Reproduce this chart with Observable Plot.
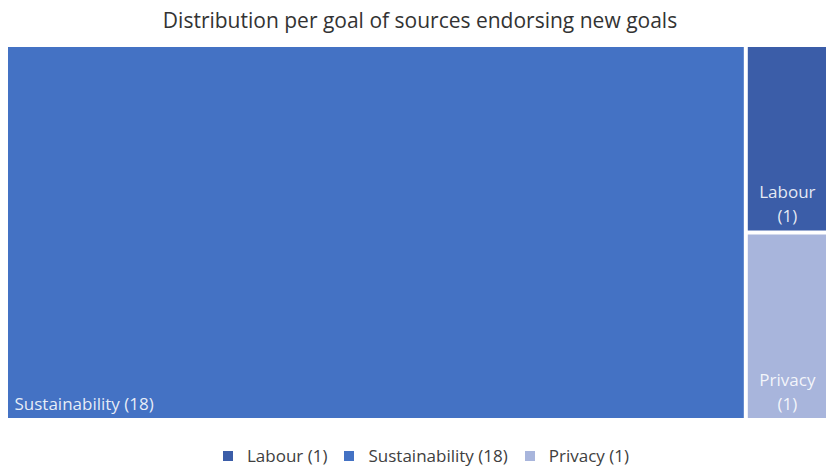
<!DOCTYPE html>
<html>
<head>
<meta charset="utf-8">
<script src="https://cdn.jsdelivr.net/npm/d3@7"></script>
<script src="https://cdn.jsdelivr.net/npm/@observablehq/plot@0.6"></script>
<style>
  html, body { margin: 0; padding: 0; background: #fff; }
  body { width: 826px; height: 466px; overflow: hidden; font-family: "Open Sans", Lato, sans-serif; }
  #title { height: 38px; line-height: 40px; text-align: center; font-size: 21px; color: #333; padding-left: 14px; }
  #legend { display: flex; justify-content: center; gap: 17px; font-size: 17px; line-height: 21px; height: 21px; color: #404040; margin-top: 17px; padding-left: 26px; }
  .item { display: flex; align-items: center; gap: 14px; }
  .sw { width: 10px; height: 10px; display: inline-block; }
</style>
</head>
<body>
<div id="title"></div>
<div id="chart"></div>
<div id="legend"></div>
<script>
const titleText = "Distribution per goal of sources endorsing new goals";
const goals = ["Labour", "Sustainability", "Privacy"];
const counts = [1, 18, 1];
const colors = ["#3B5DA8", "#4472C4", "#A8B5DC"];

document.getElementById("title").textContent = titleText;

const W = 818, H = 371;
const root = d3.hierarchy({children: goals.map((g, i) => ({name: g, value: counts[i], color: colors[i]}))})
  .sum(d => d.value || 0)
  .sort((a, b) => b.value - a.value);
d3.treemap().size([W, H]).paddingInner(4).tile(d3.treemapSquarify)(root);
const leaves = root.leaves().map(l => ({
  name: l.data.name, value: l.data.value, color: l.data.color,
  x0: l.x0, x1: l.x1, y0: l.y0, y1: l.y1,
  label: `${l.data.name} (${l.data.value})`
}));
const big = leaves.filter(d => d.x1 - d.x0 > 200);
const small = leaves.filter(d => d.x1 - d.x0 <= 200);

const chart = Plot.plot({
  width: 826,
  height: 390,
  marginLeft: 8, marginRight: 0, marginTop: 9, marginBottom: 10,
  x: {domain: [0, W], axis: null},
  y: {domain: [0, H], range: [9, 380], axis: null},
  style: {fontFamily: "'Open Sans', Lato, sans-serif", background: "transparent"},
  marks: [
    Plot.rect(leaves, {x1: "x0", x2: "x1", y1: "y0", y2: "y1", fill: d => d.color, inset: 0}),
    Plot.text(big, {x: d => d.x0, y: d => d.y1, text: "label", textAnchor: "start", lineAnchor: "bottom",
      dx: 6, dy: -9, fill: "white", fillOpacity: 0.88, fontSize: 17}),
    Plot.text(small, {x: d => (d.x0 + d.x1) / 2, y: d => d.y1, text: d => `${d.name}\n(${d.value})`,
      lineAnchor: "bottom", lineHeight: 1.4, dy: -9, fill: "white", fillOpacity: 0.88, fontSize: 17})
  ]
});
document.getElementById("chart").appendChild(chart);

const leg = document.getElementById("legend");
goals.forEach((g, i) => {
  const it = document.createElement("div");
  it.className = "item";
  const sw = document.createElement("span");
  sw.className = "sw";
  sw.style.background = colors[i];
  const t = document.createElement("span");
  t.textContent = `${g} (${counts[i]})`;
  it.appendChild(sw); it.appendChild(t);
  leg.appendChild(it);
});
</script>
</body>
</html>
